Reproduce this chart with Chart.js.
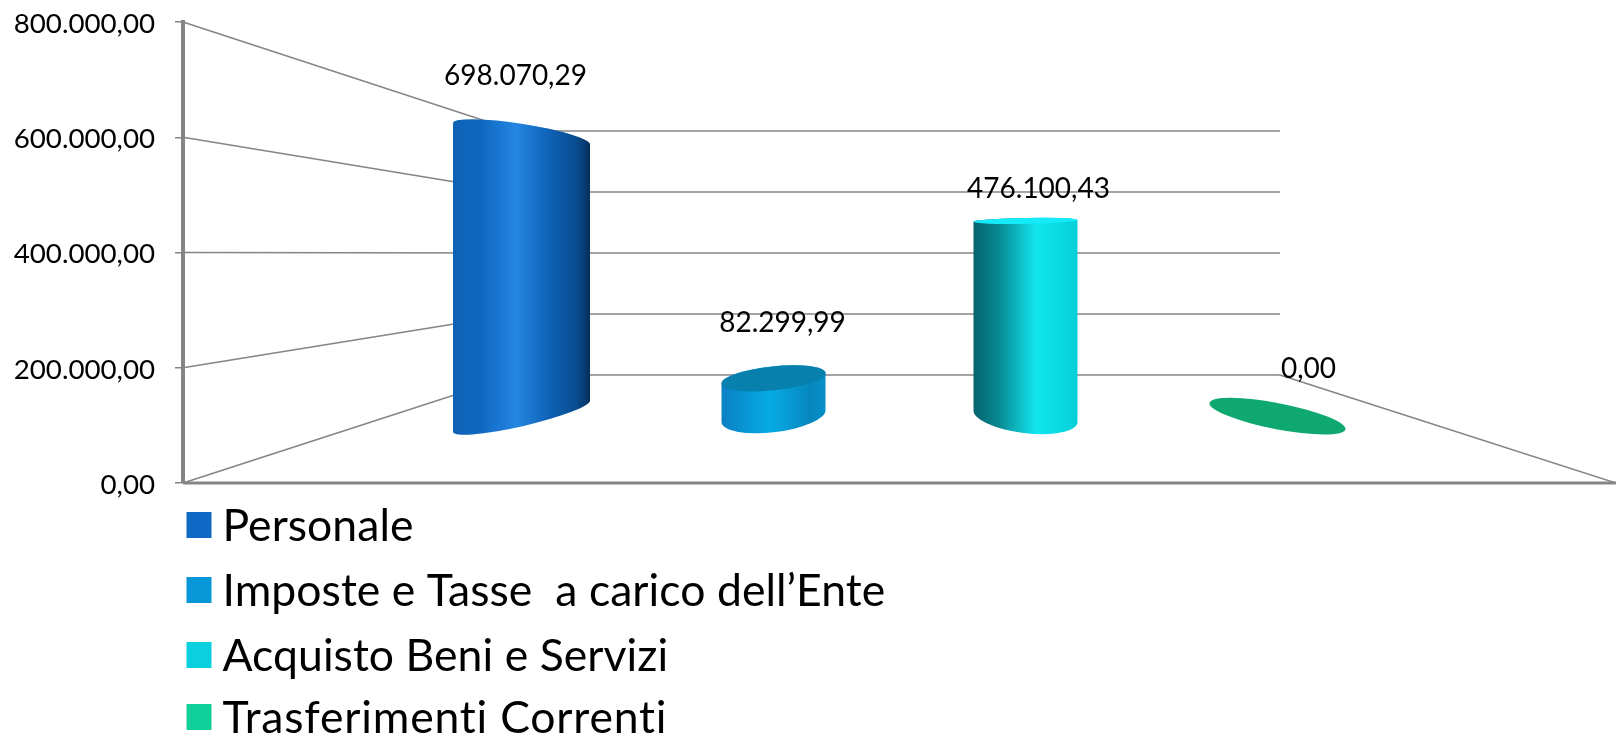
<!DOCTYPE html>
<html lang="it">
<head>
<meta charset="utf-8">
<title>Spese correnti</title>
<style>
html,body{margin:0;padding:0;background:#fff;}
canvas{display:block;}
</style>
<script src="https://cdn.jsdelivr.net/npm/chart.js@4/dist/chart.umd.min.js"></script>
</head>
<body>
<canvas id="c" width="1616" height="735"></canvas>
<script>
// ---- data ----
const categories = [''];
const seriesNames = ['Personale', 'Imposte e Tasse  a carico dell\u2019Ente', 'Acquisto Beni e Servizi', 'Trasferimenti Correnti'];
const seriesValues = [698070.29, 82299.99, 476100.43, 0];
const axisMax = 800000;
const axisStep = 200000;

// ---- styles ----
const FONT = 'Lato, "Open Sans", sans-serif';
const legendColors = ['#0f69c4', '#0796d8', '#09cfdf', '#10cf98'];
const legendTracking = ['0.05px', '0.05px', '0.05px', '0.8px'];
const barWidthShares = [0.5437, 0.4127, 0.4127, 0.5397];
const bodyStops = [
  [[0,'#0e62b5'],[.2,'#0f68c0'],[.46,'#2586e2'],[.72,'#0d60b2'],[.9,'#0a4d90'],[1,'#052f5c']],
  [[0,'#0a80c4'],[.47,'#06abe6'],[.85,'#0687bd'],[1,'#0790c9']],
  [[0,'#05636b'],[.25,'#088a94'],[.6,'#12e6ef'],[.8,'#0bdbe4'],[1,'#05cfd8']],
  [[0,'#10a871'],[1,'#10a871']]
];
const topFaces = [null, '#0780ad', '#14eaf8', '#10a871'];
const topTilt = [9, -6, -1, 11];
const topMinor = [10, 12, 3, 13];
const topNudge = [4, -4, 0, 0];
const baseTilt = [-13, -7, 7, 11];
const baseMinor = [10, 16, 17, 13];
const labelShift = [[-6,-54],[9,-59],[13,-32],[31,-47]];
const wall = {left:516, right:1280, zeroY:375, topY:131};
const lineColor = '#858585';

const fmt = v => v.toLocaleString('it-IT', {minimumFractionDigits:2, maximumFractionDigits:2});
const rad = d => d * Math.PI / 180;

// cylinder rendering for each bar
Chart.BarElement.prototype.draw = function (ctx) {
  const {x, y, base, width} = this.getProps(['x','y','base','width']);
  const i = this.seriesIndex;
  const hw = width / 2;
  const tr = rad(topTilt[i]), br = rad(baseTilt[i]);
  const ta = hw / Math.cos(tr), ba = hw / Math.cos(br);
  const ty = y + topNudge[i];
  ctx.save();
  const g = ctx.createLinearGradient(x - hw, 0, x + hw, 0);
  bodyStops[i].forEach(s => g.addColorStop(s[0], s[1]));
  if (base - y > 0.5) {
    ctx.beginPath();
    ctx.ellipse(x, ty, ta, topMinor[i], tr, Math.PI, 2 * Math.PI);
    ctx.ellipse(x, base, ba, baseMinor[i], br, 0, Math.PI);
    ctx.closePath();
    ctx.fillStyle = g;
    ctx.fill();
  }
  if (topFaces[i]) {
    ctx.beginPath();
    ctx.ellipse(x, ty, ta, topMinor[i], tr, 0, 2 * Math.PI);
    ctx.fillStyle = topFaces[i];
    ctx.fill();
  }
  ctx.restore();
};

// perspective walls, taken from the value axis ticks
const wallsPlugin = {
  id: 'walls',
  beforeDatasetDraw(chart, args) {
    args.meta.data.forEach(el => { el.seriesIndex = args.index; });
  },
  beforeDatasetsDraw(chart) {
    const {ctx, chartArea: a, scales} = chart;
    const s = scales.y;
    ctx.save();
    ctx.strokeStyle = lineColor;
    ctx.lineWidth = 1.6;
    s.ticks.forEach(t => {
      const yf = s.getPixelForValue(t.value);
      const yb = wall.zeroY - (t.value / axisMax) * (wall.zeroY - wall.topY);
      ctx.beginPath();
      ctx.moveTo(a.left, yf);
      ctx.lineTo(wall.left, yb);
      ctx.lineTo(wall.right, yb);
      ctx.stroke();
    });
    ctx.beginPath();
    ctx.moveTo(wall.right, wall.zeroY);
    ctx.lineTo(a.right, a.bottom);
    ctx.stroke();
    ctx.lineWidth = 3;
    ctx.beginPath();
    ctx.moveTo(a.left, a.bottom);
    ctx.lineTo(a.right, a.bottom);
    ctx.stroke();
    ctx.restore();
  },
  afterDraw(chart) {
    const {ctx} = chart;
    ctx.save();
    // value labels
    ctx.fillStyle = '#000';
    ctx.font = '28px ' + FONT;
    ctx.textAlign = 'center';
    ctx.textBaseline = 'middle';
    chart.data.datasets.forEach((ds, i) => {
      const el = chart.getDatasetMeta(i).data[0];
      ctx.fillText(fmt(ds.data[0]), el.x + labelShift[i][0], el.y + labelShift[i][1]);
    });
    // legend
    const rows = [525, 590, 655, 717];
    ctx.font = '44.5px ' + FONT;
    ctx.textAlign = 'left';
    chart.data.datasets.forEach((ds, i) => {
      ctx.fillStyle = ds.backgroundColor;
      ctx.fillRect(186.5, rows[i] - 13, 25, 26);
      ctx.fillStyle = '#000';
      ctx.letterSpacing = legendTracking[i];
      ctx.fillText(ds.label, 222.5, rows[i] + 2);
    });
    ctx.restore();
  }
};

new Chart(document.getElementById('c'), {
  type: 'bar',
  data: {
    labels: categories,
    datasets: seriesNames.map((name, i) => ({
      label: name,
      data: [seriesValues[i]],
      backgroundColor: legendColors[i],
      barPercentage: barWidthShares[i],
      categoryPercentage: 0.7034,
      yAxisID: 'yBars'
    }))
  },
  options: {
    responsive: false,
    animation: false,
    layout: {padding: {top: 22, bottom: 252, left: 0, right: 0}},
    plugins: {legend: {display: false}, tooltip: {enabled: false}},
    scales: {
      x: {display: false, offset: true},
      y: {
        position: 'left',
        min: 0,
        max: axisMax,
        ticks: {
          stepSize: axisStep,
          callback: fmt,
          color: '#000',
          padding: 20,
          labelOffset: 2,
          font: {family: FONT, size: 27.7}
        },
        grid: {drawOnChartArea: false, drawTicks: true, tickLength: 8, color: lineColor, lineWidth: 1.5},
        border: {display: true, color: lineColor, width: 4},
        afterFit(s) { s.width = 183; s.paddingTop = 0; s.paddingBottom = 0; }
      },
      yBars: {display: false, min: -163000, max: 961000}
    }
  },
  plugins: [wallsPlugin]
});
</script>
</body>
</html>
